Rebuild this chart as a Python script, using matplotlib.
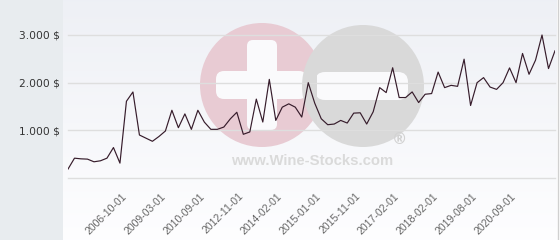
# courbe de prix avec filigrane Wine-Stocks, sortie out.png 560x240

import matplotlib
matplotlib.use('Agg')
import numpy as np
import matplotlib.pyplot as plt
from matplotlib.patches import Circle, FancyBboxPatch, Rectangle
from matplotlib.transforms import ScaledTranslation

# prix relevés (un point par observation)
prices = [187, 416, 402, 396, 340, 361, 416, 639, 312, 1610,
          1805, 902, 836, 770, 870, 986, 1421, 1055, 1345, 1021,
          1421, 1172, 1021, 1021, 1069, 1241, 1379, 917, 966, 1655,
          1174, 2069, 1208, 1486, 1556, 1486, 1278, 2000, 1569, 1243,
          1118, 1132, 1208, 1153, 1361, 1368, 1132, 1389, 1896, 1792,
          2313, 1688, 1688, 1806, 1583, 1757, 1771, 2222, 1896, 1944,
          1923, 2493, 1521, 2000, 2106, 1908, 1859, 2000, 2310, 2000,
          2613, 2176, 2472, 3000, 2296, 2669]

tick_idx = [8, 14, 20, 26, 32, 38, 44, 50, 56, 62, 68]
tick_labels = ['2006-10-01', '2009-03-01', '2010-09-01', '2012-11-01', '2014-02-01',
               '2015-01-01', '2015-11-01', '2017-02-01', '2018-02-01', '2019-08-01',
               '2020-09-01']
y_ticks = [1000, 2000, 3000]
y_labels = ['1.000 $', '2.000 $', '3.000 $']

W, H = 560, 240
fig = plt.figure(figsize=(W / 100, H / 100), dpi=100)
fig.patch.set_facecolor('white')

# fond : panneau gris à gauche + dégradé léger
bg = fig.add_axes([0, 0, 1, 1], zorder=0)
bg.set_xlim(0, W)
bg.set_ylim(H, 0)
bg.axis('off')
bg.add_patch(Rectangle((0, 0), 63, H, color='#e8ecef', lw=0))
grad = np.linspace(0, 1, 200).reshape(-1, 1)
top = np.array([0.933, 0.941, 0.961])
bot = np.array([0.995, 0.995, 1.0])
img = top + (bot - top) * grad[..., None]
bg.imshow(img, extent=(63, 557, 240, 0), aspect='auto', zorder=1)
bg.plot([558, 558], [0, H], color='#d0d0d0', lw=1, zorder=2)

# filigrane
wm = fig.add_axes([0, 0, 1, 1], zorder=1)
wm.set_xlim(0, W)
wm.set_ylim(H, 0)
wm.axis('off')
wm.patch.set_alpha(0)
wm.add_patch(Circle((262, 85), 62, color='#e8cbd3', lw=0))
wm.add_patch(FancyBboxPatch((247, 40), 30, 90, boxstyle='round,pad=0,rounding_size=6',
                            color='#fafafc', lw=0))
wm.add_patch(FancyBboxPatch((216, 71), 91, 28, boxstyle='round,pad=0,rounding_size=8',
                            color='#fafafc', lw=0))
wm.add_patch(Circle((363, 86), 61, color='#d9d9d9', lw=0))
wm.add_patch(FancyBboxPatch((315, 72), 93, 28, boxstyle='round,pad=0,rounding_size=10',
                            color='#fafafc', lw=0))
wm.add_patch(FancyBboxPatch((307, 72), 10, 28, boxstyle='round,pad=0,rounding_size=4',
                            color='#d9d9d9', lw=0))
wm.text(399, 140, '®', fontsize=11, fontweight='bold', color='#d2d2d2',
        ha='center', va='center')
wm.text(312, 161, 'www.Wine-Stocks.com', fontsize=10.7, fontweight='bold',
        family='Liberation Sans', color='#dadada', ha='center', va='center')

# graphique
y0 = 178
px_per_unit = (178 - 35) / 3000
ax = fig.add_axes([68 / W, (H - y0) / H, (555 - 68) / W, y0 / H], zorder=2)
ax.patch.set_alpha(0)
ax.plot(range(len(prices)), prices, color='#361c2b', lw=0.85)
ax.set_xlim(0, len(prices) - 1)
ax.set_ylim(0, y0 / px_per_unit)
for v in [0] + y_ticks:
    ax.axhline(v, color='#dedede', lw=1, zorder=0, clip_on=False)
for s in ax.spines.values():
    s.set_visible(False)

ax.set_yticks(y_ticks)
ax.set_yticklabels(y_labels, fontsize=7.7, color='#333333')
ax.tick_params(axis='y', length=0, pad=5.5)

ax.set_xticks(tick_idx)
ax.set_xticklabels(tick_labels, fontsize=7.6, color='#666666', family='Liberation Sans',
                   rotation=45, ha='right', va='center', rotation_mode='anchor')
ax.tick_params(axis='x', length=0, pad=12)
off = ScaledTranslation(5 / 100, 0, fig.dpi_scale_trans)
for lab in ax.get_xticklabels():
    lab.set_transform(lab.get_transform() + off)

plt.savefig('out.png', dpi=100)
